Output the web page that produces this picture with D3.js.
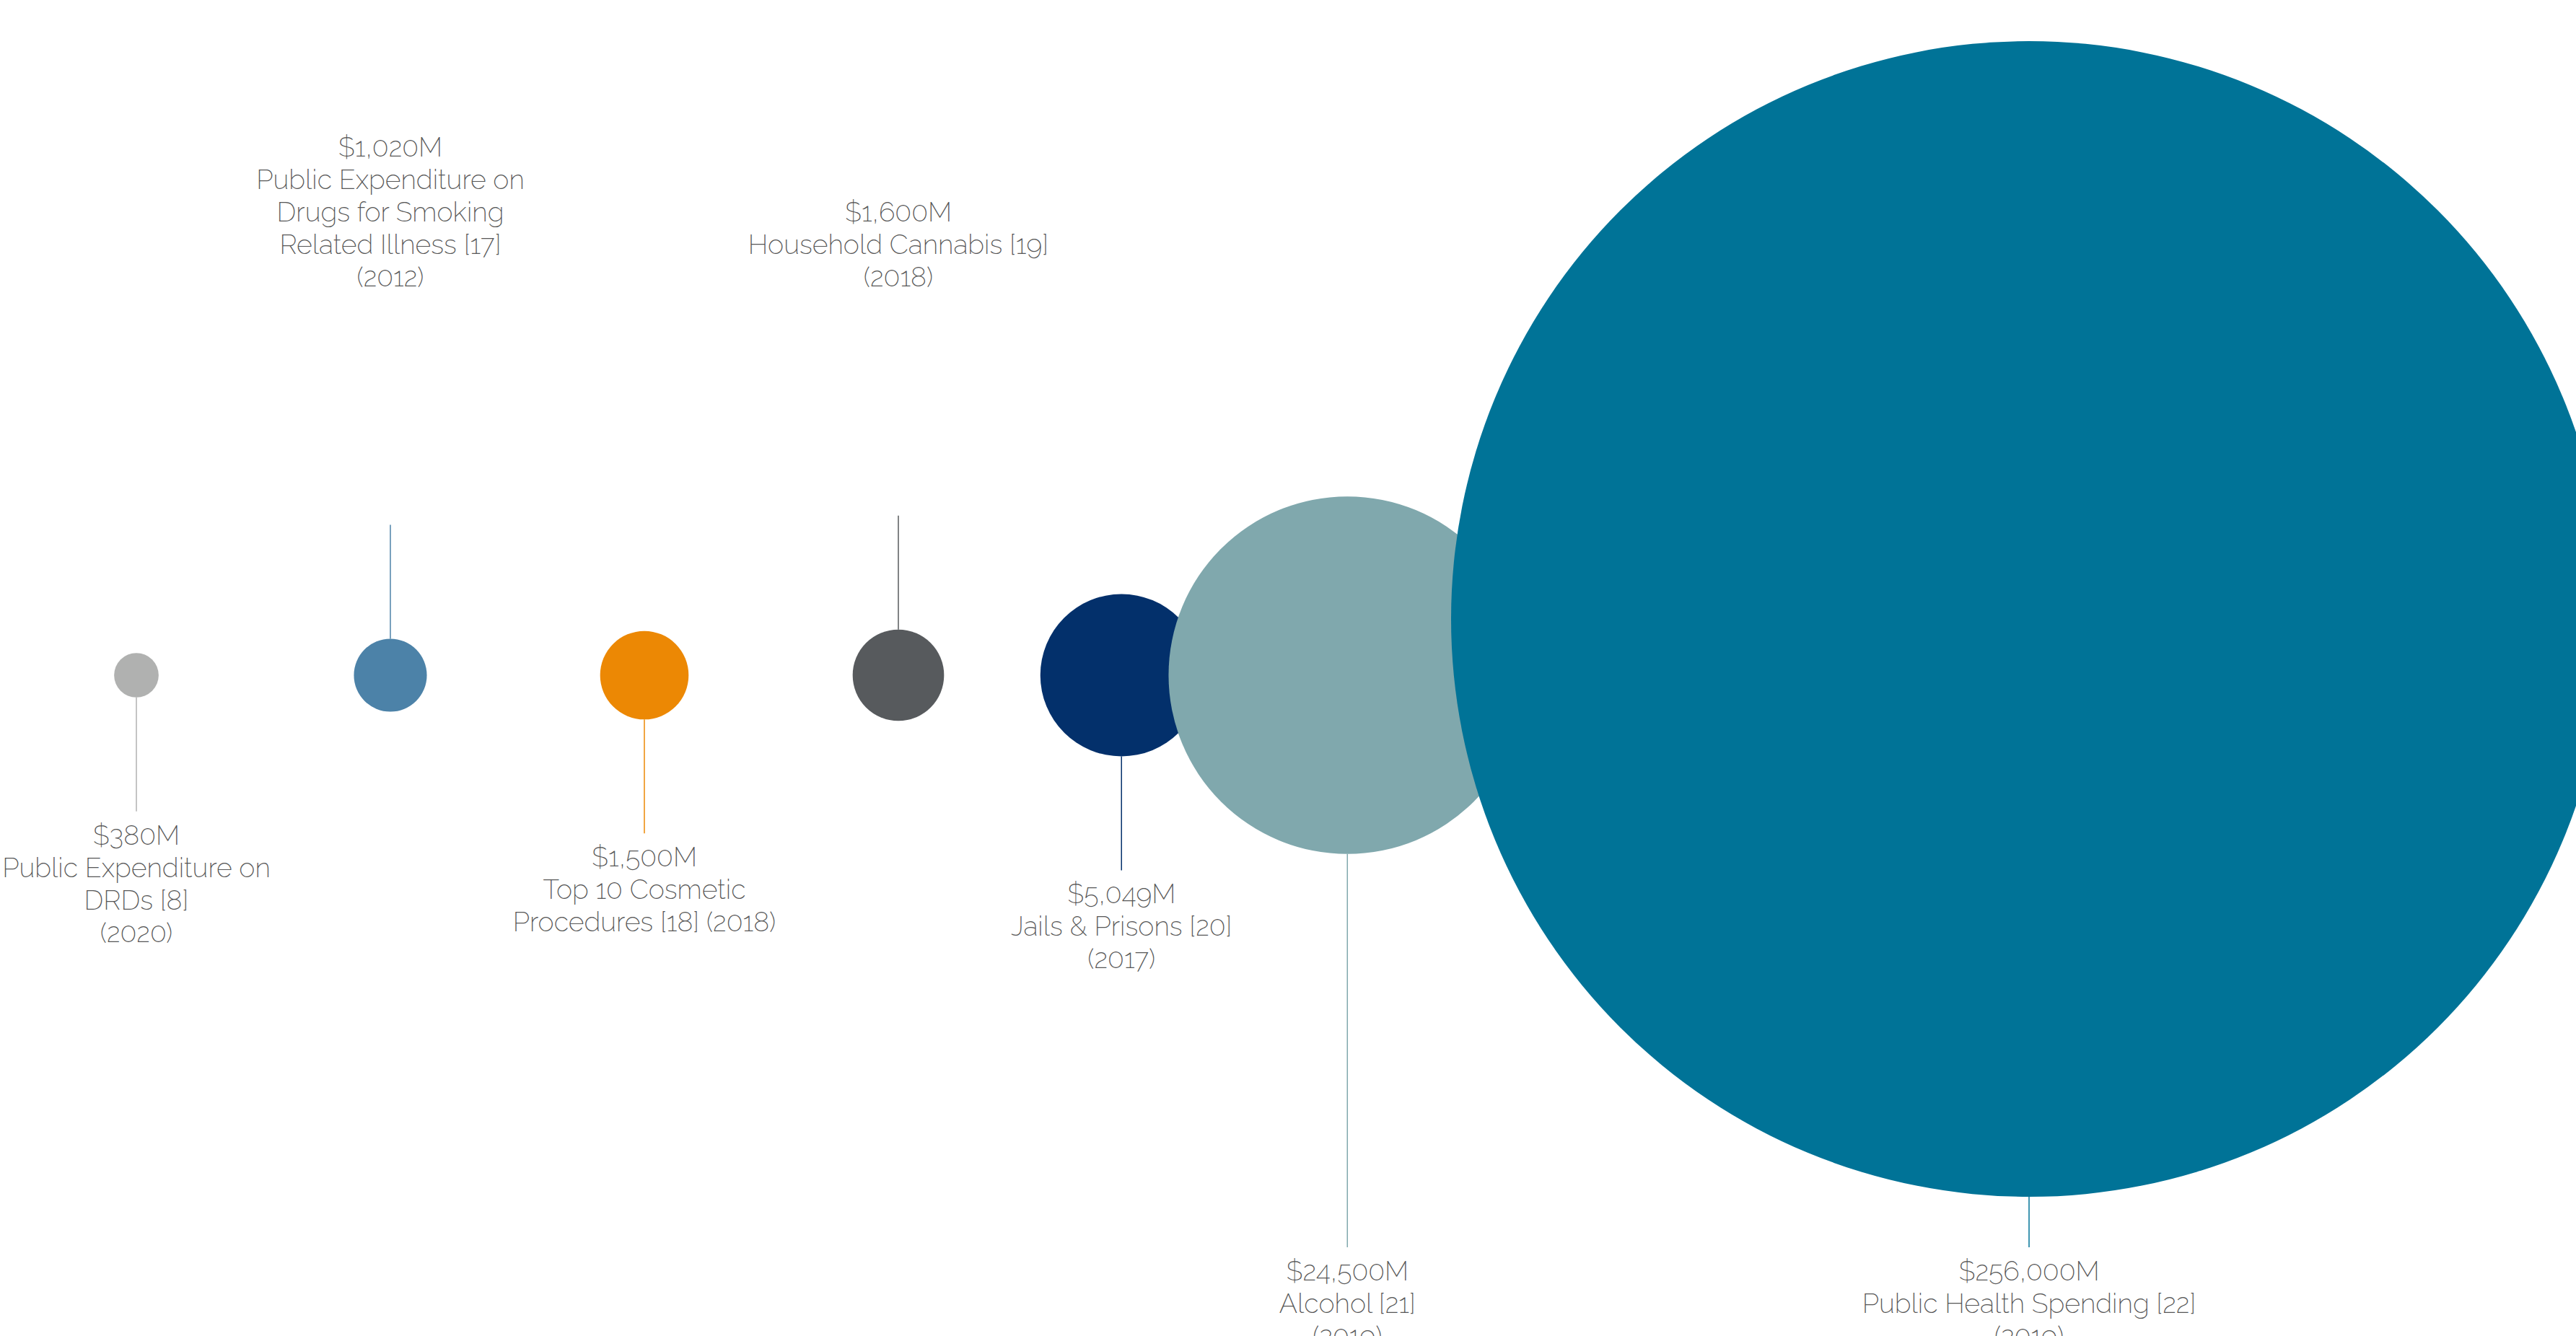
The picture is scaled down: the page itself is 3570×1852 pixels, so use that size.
<!DOCTYPE html>
<html>
<head>
<meta charset="utf-8">
<script src="https://cdn.jsdelivr.net/npm/d3@7"></script>
<style>
  body { margin: 0; background: #fff; overflow: hidden; }
  text { font-family: Raleway, Lato, "Open Sans", sans-serif; font-weight: 200; }
</style>
</head>
<body>
<div id="vis"></div>
<script>
// values in $M, smallest to largest
const values = [380, 1020, 1500, 1600, 5049, 24500, 256000]

// label lines under the value
const labels = [
  ['Public Expenditure on', 'DRDs [8]', '(2020)'],
  ['Public Expenditure on', 'Drugs for Smoking', 'Related Illness [17]', '(2012)'],
  ['Top 10 Cosmetic', 'Procedures [18] (2018)'],
  ['Household Cannabis [19]', '(2018)'],
  ['Jails & Prisons [20]', '(2017)'],
  ['Alcohol [21]', '(2019)'],
  ['Public Health Spending [22]', '(2019)']
]

const palette = ['#b0b1b0', '#4c82a8', '#ec8804', '#575a5d', '#03306b', '#80a8ad', '#007397']

const width = 3570
const height = 1852

// layout
const centerY = 936
const bubbleFloor = 1659     // big bubbles sit on this line
const bleed = 43             // the largest bubble runs this far off the right edge
const overlapShare = 0.42    // neighbours may overlap by this share of the smaller radius
const leaderLen = 158
const bottomRow = 1729       // leaders of the big bubbles end here
const topRow = 397           // baseline of the last line of labels above
const lineH = 45
const fontSize = 37.5

const svg = d3.select('#vis')
  .append('svg')
  .attr('width', width)
  .attr('height', height)

const rScale = d3.scaleSqrt()
  .domain([0, d3.max(values)])
  .range([0, 801])

const slot = d3.scalePoint()
  .domain(d3.range(values.length))
  .range([189, 189 + 352 * (values.length - 1)])

const color = d3.scaleOrdinal()
  .domain(d3.range(values.length))
  .range(palette)

const fmt = v => '$' + d3.format(',')(v) + 'M'

// radii first, then place bubbles right to left: the largest hangs off the
// right edge, the others take their slot unless a bigger neighbour pulls them left
const nodes = values.map((v, i) => ({ i, v, r: rScale(v) }))
const n = nodes.length
nodes[n - 1].x = width + bleed - nodes[n - 1].r
for (let i = n - 2; i >= 0; i--) {
  const d = nodes[i], nx = nodes[i + 1]
  const touch = nx.x - nx.r - d.r + overlapShare * Math.min(d.r, nx.r)
  d.x = Math.min(slot(i), touch)
}

nodes.forEach(d => {
  d.y = Math.min(centerY, bubbleFloor - d.r)
  const big = d.r > 150
  d.above = d.i % 2 === 1 && !big
  if (d.above) {
    d.y1 = d.y - d.r
    d.y2 = d.y1 - leaderLen
  } else {
    d.y1 = d.y + d.r
    d.y2 = big ? bottomRow : d.y1 + leaderLen
  }
  d.lines = [fmt(d.v)].concat(labels[d.i])
})

// leader lines
svg.append('g').attr('class', 'leaders')
  .selectAll('line')
  .data(nodes)
  .enter()
  .append('line')
  .attr('x1', d => d.x)
  .attr('x2', d => d.x)
  .attr('y1', d => d.y1)
  .attr('y2', d => d.y2)
  .attr('stroke', d => color(d.i))
  .attr('stroke-width', 1.5)

// bubbles
svg.append('g').attr('class', 'bubbles')
  .selectAll('circle')
  .data(nodes)
  .enter()
  .append('circle')
  .attr('cx', d => d.x)
  .attr('cy', d => d.y)
  .attr('r', d => d.r)
  .attr('fill', d => color(d.i))

// labels
const labelGroup = svg.append('g').attr('class', 'labels')
nodes.forEach(d => {
  const first = d.above ? topRow - (d.lines.length - 1) * lineH : d.y2 + 46
  const t = labelGroup.append('text')
    .attr('text-anchor', 'middle')
    .attr('font-size', fontSize)
    .attr('fill', '#555')
  t.selectAll('tspan')
    .data(d.lines)
    .enter()
    .append('tspan')
    .attr('x', d.x)
    .attr('y', (s, k) => first + k * lineH)
    .text(s => s)
})
</script>
</body>
</html>
